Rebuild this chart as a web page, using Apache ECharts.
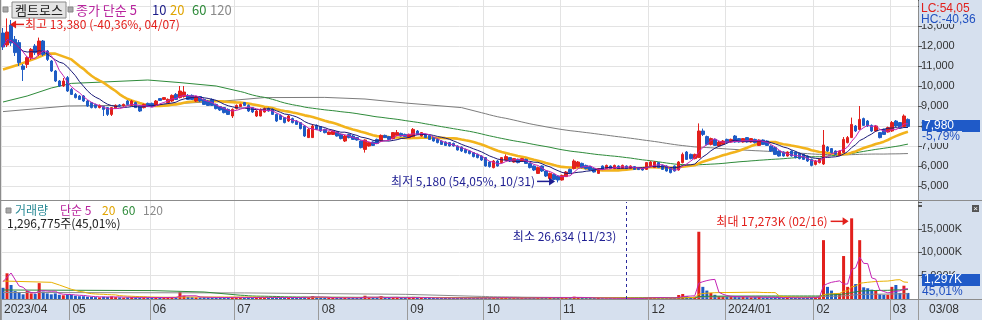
<!DOCTYPE html>
<html><head><meta charset="utf-8">
<script src="https://cdn.jsdelivr.net/npm/echarts@6/dist/echarts.min.js"></script>
<style>html,body{margin:0;padding:0;background:#d6e0ee}#c{width:982px;height:320px}</style>
</head><body><div id="c"></div>
<script>
const dates = [
"2023/04/06","2023/04/07","2023/04/10","2023/04/11","2023/04/12","2023/04/13","2023/04/14","2023/04/17","2023/04/18","2023/04/19","2023/04/20","2023/04/21","2023/04/24","2023/04/25","2023/04/26","2023/04/27","2023/04/28",
"2023/05/02","2023/05/03","2023/05/04","2023/05/08","2023/05/09","2023/05/10","2023/05/11","2023/05/12","2023/05/15","2023/05/16","2023/05/17","2023/05/18","2023/05/19","2023/05/22","2023/05/23","2023/05/24","2023/05/25","2023/05/26","2023/05/30","2023/05/31",
"2023/06/01","2023/06/02","2023/06/05","2023/06/07","2023/06/08","2023/06/09","2023/06/12","2023/06/13","2023/06/14","2023/06/15","2023/06/16","2023/06/19","2023/06/20","2023/06/21","2023/06/22","2023/06/23","2023/06/26","2023/06/27","2023/06/28","2023/06/29","2023/06/30",
"2023/07/03","2023/07/04","2023/07/05","2023/07/06","2023/07/07","2023/07/10","2023/07/11","2023/07/12","2023/07/13","2023/07/14","2023/07/17","2023/07/18","2023/07/19","2023/07/20","2023/07/21","2023/07/24","2023/07/25","2023/07/26","2023/07/27","2023/07/28","2023/07/31",
"2023/08/01","2023/08/02","2023/08/03","2023/08/04","2023/08/07","2023/08/08","2023/08/09","2023/08/10","2023/08/11","2023/08/14","2023/08/16","2023/08/17","2023/08/18","2023/08/21","2023/08/22","2023/08/23","2023/08/24","2023/08/25","2023/08/28","2023/08/29","2023/08/30","2023/08/31",
"2023/09/01","2023/09/04","2023/09/05","2023/09/06","2023/09/07","2023/09/08","2023/09/11","2023/09/12","2023/09/13","2023/09/14","2023/09/15","2023/09/18","2023/09/19","2023/09/20","2023/09/21","2023/09/22","2023/09/25","2023/09/26","2023/09/27",
"2023/10/04","2023/10/05","2023/10/06","2023/10/10","2023/10/11","2023/10/12","2023/10/13","2023/10/16","2023/10/17","2023/10/18","2023/10/19","2023/10/20","2023/10/23","2023/10/24","2023/10/25","2023/10/26","2023/10/27","2023/10/30","2023/10/31",
"2023/11/01","2023/11/02","2023/11/03","2023/11/06","2023/11/07","2023/11/08","2023/11/09","2023/11/10","2023/11/13","2023/11/14","2023/11/15","2023/11/16","2023/11/17","2023/11/20","2023/11/21","2023/11/22","2023/11/23","2023/11/24","2023/11/27","2023/11/28","2023/11/29","2023/11/30",
"2023/12/01","2023/12/04","2023/12/05","2023/12/06","2023/12/07","2023/12/08","2023/12/11","2023/12/12","2023/12/13","2023/12/14","2023/12/15","2023/12/18","2023/12/19","2023/12/20","2023/12/21","2023/12/22","2023/12/26","2023/12/27","2023/12/28",
"2024/01/02","2024/01/03","2024/01/04","2024/01/05","2024/01/08","2024/01/09","2024/01/10","2024/01/11","2024/01/12","2024/01/15","2024/01/16","2024/01/17","2024/01/18","2024/01/19","2024/01/22","2024/01/23","2024/01/24","2024/01/25","2024/01/26","2024/01/29","2024/01/30","2024/01/31",
"2024/02/01","2024/02/02","2024/02/05","2024/02/06","2024/02/07","2024/02/08","2024/02/13","2024/02/14","2024/02/15","2024/02/16","2024/02/19","2024/02/20","2024/02/21","2024/02/22","2024/02/23","2024/02/26","2024/02/27","2024/02/28","2024/02/29",
"2024/03/04","2024/03/05","2024/03/06","2024/03/07","2024/03/08"];

const opens = [
12650,12050,13050,12330,12170,11000,11080,11420,12000,11580,
12250,11750,11250,10750,10250,10000,10420,9830,9580,9500,
9500,9250,9170,9080,8920,8970,8920,8580,8870,9050,
9000,9250,9030,9170,9000,8920,9130,9130,9030,9370,
9330,9170,9250,9580,9420,9470,9530,9530,9250,9470,
9330,9250,9330,9080,8970,8920,8830,8500,8870,8970,
9170,9030,8920,8500,8500,8700,8870,8830,8580,8530,
8420,8250,8370,8250,8170,8000,7420,7420,8030,7970,
7830,7580,7580,7700,7580,7250,7580,7500,7420,7250,
6830,7000,7200,7330,7250,7530,7470,7370,7530,7630,
7580,7420,7470,7750,7500,7580,7530,7420,7330,7250,
7200,7170,7130,7000,6950,6830,6750,6670,6580,6500,
6420,6200,5920,6250,6170,6300,6420,6200,6330,6250,
6330,6130,6000,5630,6000,5750,5370,5580,5500,5300,
5470,5830,5870,5970,6130,6030,5970,5880,5630,6000,
5870,6000,5870,6000,5880,6000,5880,5970,5920,5870,
5830,5970,5920,6170,6030,6000,5920,6000,5800,6170,
6700,6580,6370,6420,7750,7470,7080,7330,7000,7080,
7330,7200,7500,7370,7200,7420,7200,7330,7030,7300,
7250,7000,6920,6750,6700,6500,6750,6700,6630,6580,
6500,6330,6080,6170,6100,6950,6870,6750,6530,6670,
7170,7420,8000,7830,8370,8250,8030,7750,7670,7830,
7700,7750,8250,8170,7970,8330];

const closes = [
11950,12700,12150,11670,11170,10830,11420,11830,11670,12250,
11580,11330,10750,10250,10000,10250,9750,9580,9420,9330,
9250,9000,8920,8920,9030,8830,8580,8920,9030,9000,
9080,9080,9250,8920,8750,9080,8970,8970,9250,9280,
9420,9330,9530,9330,9750,9700,9330,9330,9470,9250,
9080,9030,9030,8870,8800,8670,8580,8830,9030,9080,
9030,8750,8700,8750,8830,8870,8750,8580,8250,8330,
8170,8500,8170,8080,7870,7500,7830,8000,7830,7750,
7670,7700,7750,7500,7370,7500,7420,7330,7300,6920,
7300,7170,7030,7130,7530,7420,7330,7670,7670,7500,
7470,7580,7830,7580,7670,7420,7330,7250,7170,7080,
7030,7000,7000,6800,6750,6670,6620,6470,6420,6300,
6000,5970,6250,6000,6420,6470,6250,6370,6170,6370,
6130,5920,5800,5920,5750,5500,5630,5330,5300,5530,
5700,5670,6250,6200,5920,5870,5800,5700,5870,5830,
6030,5870,6030,5870,6030,5870,6000,5830,5820,5800,
6170,6200,6200,5920,5830,5750,5670,5750,6200,6580,
6330,6370,6580,7750,7580,7080,7370,7030,7200,7250,
7170,7330,7200,7200,7370,7200,7370,7170,7300,7080,
7030,6750,6580,6500,6500,6700,6500,6420,6370,6330,
6250,6030,6250,6330,7050,6750,6670,6580,6750,7330,
7420,8080,7750,8330,8030,8000,7750,8000,7420,7580,
7920,8170,8000,7920,8500,7980];

const lows = [
11800,11950,12000,11500,11000,10250,10900,11300,11550,11500,
11500,11250,10700,10200,9950,9950,9700,9550,9380,9300,
9200,8950,8880,8880,8880,8500,8500,8500,8850,8970,
8970,9050,9000,8900,8700,8880,8950,8950,9000,9250,
9300,9150,9200,9300,9380,9420,9300,9300,9200,9200,
9050,9000,9000,8830,8750,8630,8550,8400,8830,8950,
9000,8700,8650,8450,8480,8670,8720,8550,8200,8300,
8130,8200,8130,8050,7830,7450,7400,7400,7800,7700,
7630,7550,7550,7470,7330,7200,7380,7300,7270,6880,
6670,6970,7000,7100,7200,7400,7300,7330,7500,7470,
7450,7400,7450,7550,7470,7400,7300,7220,7130,7050,
7000,6970,6970,6770,6700,6630,6580,6430,6380,6250,
5970,5920,5880,5970,6130,6280,6200,6170,6130,6220,
6100,5880,5750,5600,5700,5450,5330,5280,5180,5270,
5450,5620,5830,5930,5880,5830,5770,5670,5600,5800,
5850,5850,5850,5850,5850,5850,5850,5800,5800,5770,
5800,5950,5900,5900,5800,5720,5630,5720,5770,6130,
6300,6330,6330,6400,7500,7030,7030,7000,6970,7050,
7130,7170,7170,7170,7170,7170,7170,7130,7000,7050,
7000,6700,6550,6470,6470,6470,6470,6380,6330,6300,
6200,5980,6030,6130,6050,6700,6630,6550,6500,6650,
7130,7400,7700,7800,8000,7950,7700,7700,7380,7550,
7670,7700,7950,7870,7950,7950];

const highs = [
12900,13380,13300,12500,12300,11100,11500,11900,12100,12420,
12300,11800,11300,10800,10300,10400,10500,9900,9650,9550,
9550,9300,9200,9120,9080,9000,8950,8950,9080,9100,
9120,9300,9300,9220,9050,9120,9170,9170,9300,9400,
9450,9380,9580,9650,10000,10000,9600,9580,9500,9500,
9380,9300,9380,9120,9000,8950,8880,8880,9080,9120,
9200,9080,8950,8800,8880,8920,8920,8880,8620,8580,
8450,8550,8420,8300,8200,8050,7900,8100,8080,8000,
7870,7720,7780,7730,7620,7550,7620,7550,7450,7280,
7330,7200,7230,7370,7580,7570,7500,7700,7800,7670,
7620,7620,7900,7800,7700,7620,7570,7450,7370,7280,
7230,7200,7170,7030,6980,6870,6780,6700,6620,6530,
6450,6250,6300,6300,6450,6580,6450,6400,6370,6400,
6370,6170,6030,5970,6030,5780,5670,5620,5530,5570,
5750,5870,6330,6250,6170,6070,6000,5920,5900,6030,
6070,6030,6070,6030,6070,6030,6030,6000,5950,5900,
6200,6250,6250,6200,6070,6030,5950,6030,6250,6670,
6750,6620,6620,8130,7870,7520,7420,7380,7250,7300,
7370,7370,7550,7400,7400,7450,7400,7370,7330,7330,
7280,7030,6950,6780,6730,6730,6780,6730,6670,6620,
6530,6370,6300,6380,7800,7000,6900,6780,6780,7450,
7500,8420,8050,9000,8420,8300,8080,8050,7700,7870,
7970,8250,8300,8200,8580,8380];

// volume in thousands of shares (K)
const volumes = [
2400,5500,3000,1700,1300,1000,1700,1200,1100,3400,
1600,1200,1000,1200,900,800,1000,900,700,600,
600,500,450,400,350,500,450,550,400,350,
300,350,400,350,300,350,300,300,350,300,
300,350,400,350,1500,700,450,400,350,350,
400,350,300,300,350,300,350,400,350,300,
300,350,300,350,400,350,300,300,350,300,
300,350,300,300,350,450,400,600,350,300,
300,250,250,300,250,300,250,250,250,350,
700,300,250,250,600,250,250,400,300,250,
250,300,450,250,250,250,250,250,200,200,
250,200,200,200,250,200,200,200,250,200,
300,250,300,250,300,300,200,200,200,200,
250,250,300,300,250,300,300,250,350,300,
300,250,500,350,250,200,200,200,250,150,
150,150,150,150,150,26.634,150,150,120,200,
300,400,350,250,200,200,200,250,850,1070,
600,400,500,14400,2600,1800,1300,900,600,500,
450,500,600,400,450,400,350,400,450,300,
300,300,350,300,250,300,250,250,250,250,
300,400,350,500,12600,2600,1800,1200,1200,9200,
2600,17273,3200,12600,2500,2300,2000,1800,1000,900,
900,2600,3000,1300,2850,1297];

const ma20Lead = [[0,10830],[4,11080],[8,11370],[11,11620],[13,11620],[17,11330]];
const ma60Lead = [[0,9200],[6,9500],[12,9900],[17,10130],[25,10200],[36,10300],[44,10170],[53,10000]];
const ma120Lead = [[0,8720],[16,9000],[37,9050],[55,9250],[65,9420],[80,9430],[90,9350],[100,9150],[114,8920]];
const volMa5Lead = [[0,3700],[2,5570]];
const volMa20Lead = [[0,3850],[12,3570],[14,3000],[17,2080]];
const volMa60Lead = [[0,1930],[37,1800],[50,1500]];
const volMa120Lead = [[0,1400],[60,1300],[100,1000]];

const priceTicks = {min: 4000, max: 14300, interval: 1000};
const volTicks = {min: 0, max: 20770, interval: 5000};

const RED = '#e2201c', BLUE = '#1f5cc5';
const FONT_KR = '"Noto Sans CJK KR", sans-serif';
const FONT_NUM = '"Liberation Sans", Arial, sans-serif';

function smaFull(arr, n, lead) {
  const out = lead.slice();
  for (let i = n - 1; i < arr.length; i++) {
    let s = 0; for (let k = i - n + 1; k <= i; k++) s += arr[k];
    out.push([i, s / n]);
  }
  return out;
}
function smaPartial(arr, n) {
  const out = [];
  for (let i = 0; i < arr.length; i++) {
    const a = Math.max(0, i - n + 1); let s = 0;
    for (let k = a; k <= i; k++) s += arr[k];
    out.push([i, s / (i - a + 1)]);
  }
  return out;
}
function isMonthStart(i) {
  if (i >= dates.length) return false;
  return i === 0 || dates[i].slice(0, 7) !== dates[i - 1].slice(0, 7);
}
const xCats = dates.concat(['', '']);
const fmt = v => Math.round(v).toLocaleString('en-US');

const chart = echarts.init(document.getElementById('c'));
const lineBase = {type: 'line', symbol: 'none', showSymbol: false, animation: false, silent: true};

const option = {
  animation: false,
  backgroundColor: '#d6e0ee',
  textStyle: {fontFamily: FONT_NUM},
  grid: [
    {left: 1, right: 64, top: 0, height: 206, show: true, backgroundColor: '#fff', borderWidth: 0},
    {left: 1, right: 64, top: 202, height: 97, show: true, backgroundColor: '#fff', borderWidth: 0}
  ],
  xAxis: [
    {type: 'category', gridIndex: 0, data: xCats, boundaryGap: true,
     axisLine: {show: false}, axisTick: {show: false}, axisLabel: {show: false},
     splitLine: {show: true, interval: i => isMonthStart(i), lineStyle: {color: '#e3e3e3', width: 1}}},
    {type: 'category', gridIndex: 1, data: xCats, boundaryGap: true,
     axisLine: {show: true, lineStyle: {color: '#8c8c8c'}},
     axisTick: {show: true, interval: i => isMonthStart(i), length: 21, lineStyle: {color: '#9a9a9a'}},
     axisLabel: {show: true, interval: i => isMonthStart(i), align: 'left', margin: 5, color: '#333',
       fontSize: 12, fontFamily: FONT_NUM, padding: [0, 0, 0, 1],
       formatter: (v, i) => { if (!v) return ''; const ym = v.slice(0, 7); return (i === 0 || ym.slice(5) === '01') ? ym : ym.slice(5); }},
     splitLine: {show: true, interval: i => isMonthStart(i), lineStyle: {color: '#e3e3e3', width: 1}}}
  ],
  yAxis: [
    {type: 'value', gridIndex: 0, position: 'right', min: priceTicks.min, max: priceTicks.max, interval: priceTicks.interval,
     axisLine: {show: true, lineStyle: {color: '#8c8c8c'}},
     axisTick: {show: true, length: 4, lineStyle: {color: '#555'}},
     axisLabel: {margin: 3, color: '#333', fontSize: 11, fontFamily: FONT_NUM,
       formatter: v => (v < 5000 || v > 13000) ? '' : fmt(v)},
     splitLine: {show: true, lineStyle: {color: ['transparent','#e3e3e3','#e3e3e3','#e3e3e3','#e3e3e3','#e3e3e3','#e3e3e3','#e3e3e3','#e3e3e3','#e3e3e3','#e3e3e3','transparent']}}},
    {type: 'value', gridIndex: 1, position: 'right', min: volTicks.min, max: volTicks.max, interval: volTicks.interval,
     axisLine: {show: true, lineStyle: {color: '#8c8c8c'}},
     axisTick: {show: true, length: 4, lineStyle: {color: '#555'}},
     axisLabel: {margin: 3, color: '#333', fontSize: 11, fontFamily: FONT_NUM,
       formatter: v => (v > 0 && v <= 15000) ? fmt(v) + 'K' : ''},
     splitLine: {show: true, lineStyle: {color: ['transparent','#e3e3e3','#e3e3e3','#e3e3e3','transparent','transparent']}}}
  ],
  series: [
    Object.assign({}, lineBase, {name: 'MA120', xAxisIndex: 0, yAxisIndex: 0, z: 2, data: smaFull(closes, 120, ma120Lead), lineStyle: {color: '#7c7c7c', width: 1}}),
    Object.assign({}, lineBase, {name: 'MA60', xAxisIndex: 0, yAxisIndex: 0, z: 2, data: smaFull(closes, 60, ma60Lead), lineStyle: {color: '#2e8b3a', width: 1}}),
    Object.assign({}, lineBase, {name: 'MA20', xAxisIndex: 0, yAxisIndex: 0, z: 2, data: smaFull(closes, 20, ma20Lead), lineStyle: {color: '#f2b31c', width: 2.6}}),
    {type: 'candlestick', name: '켐트로스', xAxisIndex: 0, yAxisIndex: 0, z: 3, barWidth: 3, animation: false,
     data: dates.map((d, i) => [opens[i], closes[i], lows[i], highs[i]]),
     itemStyle: {color: RED, color0: BLUE, borderColor: RED, borderColor0: BLUE, borderWidth: 1}},
    Object.assign({}, lineBase, {name: 'MA10', xAxisIndex: 0, yAxisIndex: 0, z: 4, data: smaPartial(closes, 10), lineStyle: {color: '#1b1b78', width: 1}}),
    Object.assign({}, lineBase, {name: 'MA5', xAxisIndex: 0, yAxisIndex: 0, z: 4, data: smaPartial(closes, 5), lineStyle: {color: '#c424b4', width: 1}}),
    {type: 'bar', name: '거래량', xAxisIndex: 1, yAxisIndex: 1, barWidth: 3, animation: false, z: 2,
     data: volumes.map((v, i) => ({value: v, itemStyle: {color: closes[i] >= opens[i] ? RED : BLUE}})),
     markLine: {silent: true, symbol: 'none', animation: false, label: {show: false},
       lineStyle: {color: '#2a2a9c', type: [3, 3], width: 1},
       data: [{xAxis: volumes.indexOf(Math.min.apply(null, volumes))}]}},
    Object.assign({}, lineBase, {name: 'VMA120', xAxisIndex: 1, yAxisIndex: 1, z: 3, data: smaFull(volumes, 120, volMa120Lead), lineStyle: {color: '#8a8a8a', width: 1}}),
    Object.assign({}, lineBase, {name: 'VMA60', xAxisIndex: 1, yAxisIndex: 1, z: 3, data: smaFull(volumes, 60, volMa60Lead), lineStyle: {color: '#2e8b3a', width: 1}}),
    Object.assign({}, lineBase, {name: 'VMA20', xAxisIndex: 1, yAxisIndex: 1, z: 3, data: smaFull(volumes, 20, volMa20Lead), lineStyle: {color: '#e8b000', width: 1}}),
    Object.assign({}, lineBase, {name: 'VMA5', xAxisIndex: 1, yAxisIndex: 1, z: 3, data: smaFull(volumes, 5, volMa5Lead), lineStyle: {color: '#c424b4', width: 1}})
  ]
};
chart.setOption(option);

// annotation anchors through the library's scales
const P = (i, v) => chart.convertToPixel({xAxisIndex: 0, yAxisIndex: 0}, [i, v]);
const V = (i, v) => chart.convertToPixel({xAxisIndex: 1, yAxisIndex: 1}, [i, v]);
const iHigh = highs.indexOf(Math.max.apply(null, highs));
const iLow = lows.indexOf(Math.min.apply(null, lows));
const iVMax = volumes.indexOf(Math.max.apply(null, volumes));
const iVMin = volumes.indexOf(Math.min.apply(null, volumes));
const pH = P(iHigh, highs[iHigh]);
const pL = P(iLow, lows[iLow]);
const pVM = V(iVMax, volumes[iVMax]);
const pVm = V(iVMin, volumes[iVMin]);
const pC = P(dates.length - 1, closes[closes.length - 1]);

function tri(tipX, tipY, dir, color) {
  const s = dir === 'left' ? 1 : -1;
  return {type: 'polygon', z: 100, silent: true, shape: {points: [[tipX, tipY], [tipX + s * 6, tipY - 4], [tipX + s * 6, tipY + 4]]}, style: {fill: color}};
}
function hline(x1, x2, y, color, w) {
  return {type: 'line', z: 100, silent: true, shape: {x1: x1, y1: y, x2: x2, y2: y}, style: {stroke: color, lineWidth: w || 1}};
}
function txt(x, y, text, color, size, align, font, extra) {
  return {type: 'text', z: 100, silent: true, style: Object.assign({x: x, y: y, text: text, fill: color, font: (size || 12) + 'px ' + (font || FONT_KR), textAlign: align || 'left', textVerticalAlign: 'middle'}, extra || {})};
}

const NAVY = '#1e1e92';
const hx = pH[0] + 3, hy = pH[1] + 6;
const lx = pL[0] - 3, ly = pL[1] - 1;
const mx = pVM[0] - 3, my = pVM[1] + 3;

const graphics = [
  // borders / separators
  {type: 'line', z: 50, silent: true, shape: {x1: 0.5, y1: 0, x2: 0.5, y2: 320}, style: {stroke: '#8c8c8c'}},
  {type: 'line', z: 50, silent: true, shape: {x1: 0, y1: 200.5, x2: 982, y2: 200.5}, style: {stroke: '#8c8c8c'}},
  {type: 'line', z: 50, silent: true, shape: {x1: 918, y1: 299.5, x2: 982, y2: 299.5}, style: {stroke: '#8c8c8c'}},
  // top legend
  {type: 'rect', z: 100, silent: true, shape: {x: 3, y: 7, width: 5, height: 5}, style: {fill: '#a8a8a8', stroke: '#888'}},
  {type: 'rect', z: 100, silent: true, shape: {x: 12, y: 2, width: 54, height: 16}, style: {fill: '#e4e4e4', stroke: '#8a8a8a'}},
  txt(39, 10.5, '켐트로스', '#222', 13, 'center'),
  {type: 'rect', z: 100, silent: true, shape: {x: 68, y: 7, width: 5, height: 5}, style: {fill: '#a8a8a8', stroke: '#888'}},
  txt(76, 10.5, '종가 단순 5', '#b8249e', 13),
  txt(152, 10.5, '10', '#1b1b88', 13),
  txt(170, 10.5, '20', '#e0a400', 13),
  txt(192, 10.5, '60', '#2e8b3a', 13),
  txt(210, 10.5, '120', '#8a8a8a', 13),
  // high annotation
  tri(hx, hy, 'left', RED), hline(hx + 5, hx + 14, hy, RED, 1.5),
  txt(hx + 15, hy, '최고 ' + fmt(highs[iHigh]) + ' (-40,36%, ' + dates[iHigh].slice(5) + ')', RED, 12),
  // low annotation
  tri(lx, ly, 'right', NAVY), hline(lx - 18, lx - 5, ly, NAVY, 1.5),
  txt(lx - 20, ly, '최저 ' + fmt(lows[iLow]) + ' (54,05%, ' + dates[iLow].slice(5) + ')', NAVY, 12, 'right'),
  // volume legend
  {type: 'rect', z: 100, silent: true, shape: {x: 6, y: 208, width: 5, height: 5}, style: {fill: '#a8a8a8', stroke: '#888'}},
  txt(15, 210.5, '거래량', '#2a8a96', 12),
  txt(60, 210.5, '단순 5', '#b8249e', 12),
  txt(102, 210.5, '20', '#e0a400', 12),
  txt(122, 210.5, '60', '#2e8b3a', 12),
  txt(143, 210.5, '120', '#8a8a8a', 12),
  txt(7, 223.5, '1,296,775주(45,01%)', '#222', 12),
  // volume extremes
  tri(mx, my, 'right', RED), hline(mx - 18, mx - 5, my, RED, 1.5),
  txt(mx - 21, my, '최대 ' + fmt(volumes[iVMax]) + 'K (' + dates[iVMax].slice(5) + ')', RED, 12, 'right'),
  txt(pVm[0] - 10, 236.5, '최소 26,634 (' + dates[iVMin].slice(5) + ')', NAVY, 12, 'right'),
  // right panel texts
  {type: 'rect', z: 100, silent: true, shape: {x: 919, y: 0, width: 63, height: 24}, style: {fill: '#d6e0ee'}},
  txt(921, 9, 'LC:54,05', '#e0201c', 12, 'left', FONT_NUM),
  txt(921, 20, 'HC:-40,36', '#2050c0', 12, 'left', FONT_NUM),
  {type: 'rect', z: 100, silent: true, shape: {x: 922, y: Math.round(pC[1]) - 6, width: 58, height: 12}, style: {fill: '#1f5ac8'}},
  txt(924, Math.round(pC[1]), fmt(closes[closes.length - 1]), '#fff', 12, 'left', FONT_NUM),
  txt(921, Math.round(pC[1]) + 11, '-5,79%', '#2050c0', 12, 'left', FONT_NUM, {backgroundColor: '#d6e0ee', padding: [0, 2, 0, 1]}),
  {type: 'rect', z: 100, silent: true, shape: {x: 922, y: 274, width: 58, height: 12}, style: {fill: '#1f5ac8'}},
  txt(924, 280, fmt(volumes[volumes.length - 1]) + 'K', '#fff', 12, 'left', FONT_NUM),
  txt(921, 292, '45,01%', '#2050c0', 12, 'left', FONT_NUM, {backgroundColor: '#d6e0ee', padding: [0, 2, 0, 1]}),
  {type: 'rect', z: 100, silent: true, shape: {x: 972, y: 205, width: 7, height: 7}, style: {fill: '#555'}},
  txt(975.5, 208.5, '×', '#fff', 8, 'center', FONT_NUM),
  txt(929, 310, dates[dates.length - 1].slice(5), '#333', 12, 'left', FONT_NUM)
];
chart.setOption({graphic: graphics});
</script>
</body></html>
